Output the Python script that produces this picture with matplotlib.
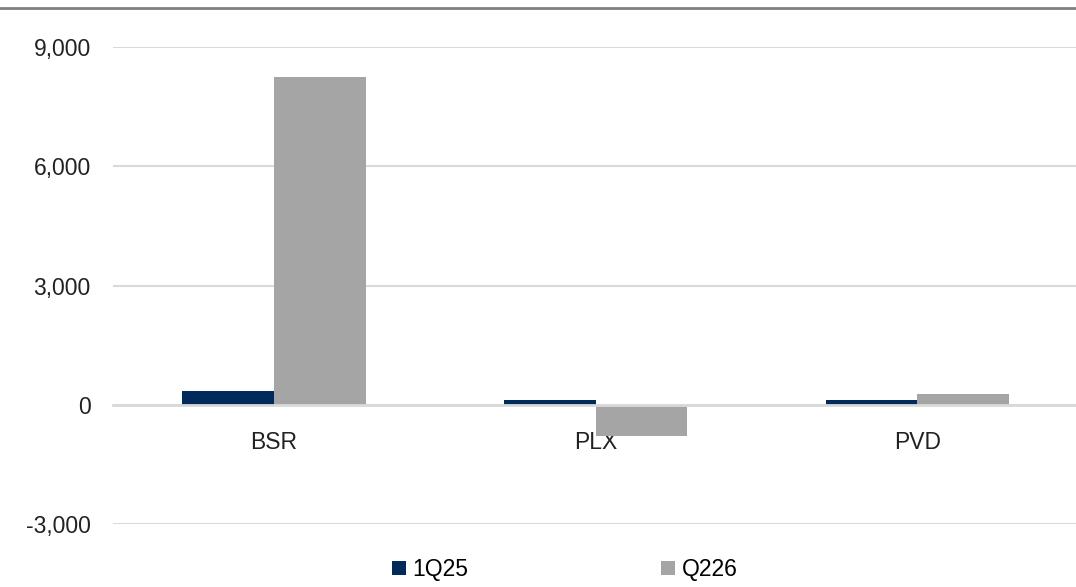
import numpy as np
import matplotlib
matplotlib.use("Agg")
import matplotlib.pyplot as plt
from matplotlib.lines import Line2D

categories = ["BSR", "PLX", "PVD"]
series_names = ["1Q25", "Q226"]
values_1q25 = [360, 130, 130]
values_q226 = [8250, -790, 270]
yticks = [-3000, 0, 3000, 6000, 9000]

NAVY = "#002a5c"
GRAY = "#a5a5a5"
GRID = "#d9d9d9"

plt.rcParams["font.family"] = ["Liberation Sans", "DejaVu Sans"]

fig = plt.figure(figsize=(10.76, 5.87), dpi=100)
ax = fig.add_axes([0.105, 0.107, 0.897, 0.813])

x = np.arange(len(categories))
w = 0.285
ax.bar(x - w / 2, values_1q25, width=w, color=NAVY, label=series_names[0], zorder=3)
ax.bar(x + w / 2, values_q226, width=w, color=GRAY, label=series_names[1], zorder=3)

ax.set_xlim(-0.5, len(categories) - 0.5)
ax.set_ylim(-3000, 9000)
ax.set_yticks(yticks)
ax.set_yticklabels([f"{v:,}" for v in yticks], fontsize=16.5, color="#222222")
ax.yaxis.grid(True, color=GRID, linewidth=1.5, zorder=0)
ax.tick_params(axis="y", length=0, pad=16)

for s in ["top", "right", "left"]:
    ax.spines[s].set_visible(False)
ax.spines["bottom"].set_position(("data", 0))
ax.spines["bottom"].set_color(GRID)
ax.spines["bottom"].set_linewidth(2)
ax.spines["bottom"].set_zorder(4)
ax.set_xticks(x)
ax.set_xticklabels(categories, fontsize=16.5, color="#222222")
ax.tick_params(axis="x", length=0, pad=19)

# top border line
fig.add_artist(Line2D([0, 1], [0.987, 0.987], color="#808080", linewidth=2, transform=fig.transFigure))

handles, labels = ax.get_legend_handles_labels()
fig.legend(handles, labels, loc="lower center", bbox_to_anchor=(0.525, -0.025), ncol=2,
           frameon=False, fontsize=16.5, handlelength=0.6, handleheight=0.6,
           handletextpad=0.3, columnspacing=8.4)

fig.savefig("out.png", dpi=100)
